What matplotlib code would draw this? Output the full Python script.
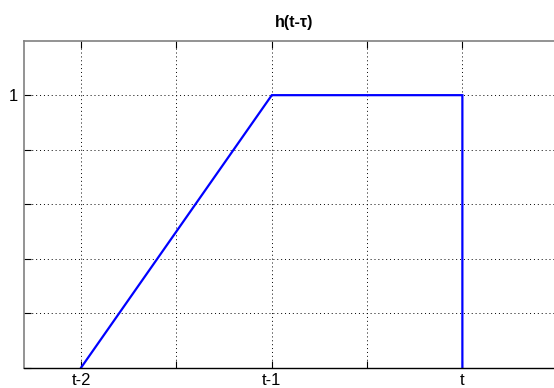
import matplotlib
matplotlib.use("Agg")
import matplotlib.pyplot as plt

plt.rcParams['font.family'] = ['Liberation Sans', 'DejaVu Sans']

# piecewise-linear kernel h(t - tau)
tau = [-2, -1, 0, 0]
h = [0, 1, 1, 0]

xticks = [-2, -1.5, -1, -0.5, 0, 0.5]
xticklabels = ['t-2', '', 't-1', '', 't', '']
yticks = [0, 0.2, 0.4, 0.6, 0.8, 1.0]
yticklabels = ['', '', '', '', '', '1']

W, H = 554, 388
fig = plt.figure(figsize=(W / 100, H / 100), dpi=100)
left, bottom, top = 24, 367.5, 40.7
xmin, xmax = -2.3, 0.7
px_per_unit = 190.6
right = left + (xmax - xmin) * px_per_unit
ax = fig.add_axes([left / W, (H - bottom) / H, (right - left) / W, (bottom - top) / H])

ax.plot(tau, h, color='#0000ff', linewidth=1.6, solid_joinstyle='miter')

ax.set_xlim(xmin, xmax)
ax.set_ylim(0, 1.2)
ax.set_xticks(xticks)
ax.set_xticklabels(xticklabels, fontsize=12)
ax.set_yticks(yticks)
ax.set_yticklabels(yticklabels, fontsize=12)
ax.tick_params(direction='in', length=5, width=0.8, top=True, right=False, pad=4)
ax.grid(True, linestyle=(0, (1, 3)), color='black', linewidth=0.7)

for side in ('left', 'top'):
    ax.spines[side].set_color('#808080')
    ax.spines[side].set_linewidth(1.2)
ax.spines['bottom'].set_color('black')
ax.spines['bottom'].set_linewidth(1.0)
ax.spines['right'].set_visible(False)

fig.text(294 / W, 1 - 23 / H, 'h(t-τ)', ha='center', va='center',
         fontsize=11.5, fontweight='bold')

fig.savefig('out.png', dpi=100)
